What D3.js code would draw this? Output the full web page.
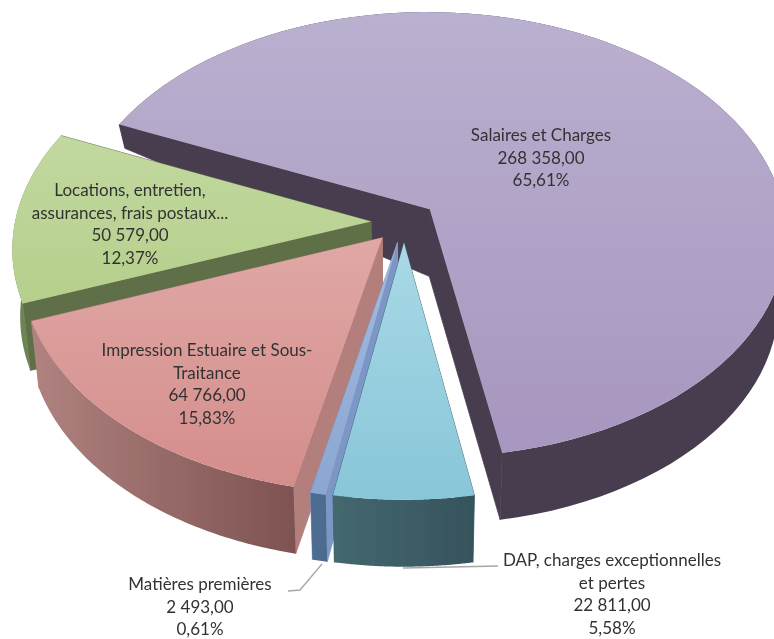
<!DOCTYPE html>
<html>
<head>
<meta charset="utf-8">
<script src="https://cdn.jsdelivr.net/npm/d3@7"></script>
<style>
    html, body { margin: 0; padding: 0; background: #fff; }
    svg { display: block; }
    .label { font-family: Lato, sans-serif; font-size: 17px; fill: #333; text-anchor: middle; }
</style>
</head>
<body>
<svg id="chart"></svg>
<script>
// order is clockwise, starting from the rear left edge of the big slice
const names = ["Salaires et Charges", "DAP, charges exceptionnelles et pertes", "Matières premières", "Impression Estuaire et Sous-Traitance", "Locations, entretien, assurances, frais postaux..."];
const values = [268358, 22811, 2493, 64766, 50579];
const valueLabels = ["268 358,00", "22 811,00", "2 493,00", "64 766,00", "50 579,00"];
const percentLabels = ["65,61%", "5,58%", "0,61%", "15,83%", "12,37%"];
const nameLines = [["Salaires et Charges"], ["DAP, charges exceptionnelles", "et pertes"], ["Matières premières"], ["Impression Estuaire et Sous-", "Traitance"], ["Locations, entretien,", "assurances, frais postaux..."]];

// styling per slice
const topColors = [["#bab0cf", "#a796bf"], ["#a9d9e5", "#88c6d9"], ["#a3bbdf", "#8aa6d2"], ["#e0a8a5", "#d48d8b"], ["#c2d8a0", "#b6cf8b"]];
const cutColors = ["#463d50", "#3f6670", "#7c97c6", "#b27f7c", "#5f7049"];
const rimColors = [["#463d50", "#463d50"], ["#44686f", "#36535c"], ["#4f6d92", "#47618a"], ["#b08280", "#6d4341"], ["#6d8552", "#5f7049"]];

// label centres, one entry per slice
const labelCentres = [[541, 135], [612, 560], [200, 584], [207, 350], [130, 190]];
const lineStep = 22.6;

// back to front
const drawOrder = [0, 4, 3, 2, 1];

// pie geometry
const width = 774, height = 639;
const cx = 404, cy = 222;
const radius = 356, explode = 33;
const tilt = 0.625, persp = 0.114;
const depth = 67, rearSlope = 108, shrink = 0.02;
const deg = Math.PI / 180;

const svg = d3.select("#chart").attr("width", width).attr("height", height);
const defs = svg.append("defs");
defs.append("filter").attr("id", "soft")
    .append("feGaussianBlur").attr("stdDeviation", 0.55);
defs.append("filter").attr("id", "softText")
    .append("feGaussianBlur").attr("stdDeviation", 0.3);

const pie = d3.pie().sort(null).startAngle(-66.2 * deg).endAngle(293.8 * deg);
const arcs = pie(values);
const line = d3.line();

// ground plane -> screen, v grows toward the viewer
function project(u, v, lower) {
    const p = 1 / (1 - persp * v / radius);
    const x = cx + u * p;
    const y = cy + v * tilt * p;
    if (!lower) return [x, y];
    // the bottom face shrinks toward the middle and the rear wall gets thinner
    const n = v / radius;
    const h = n > -0.06 ? depth : Math.max(15, depth + rearSlope * (n + 0.06));
    return [x + (cx - x) * shrink, y + h];
}

function gradient(id, colors, x1, y1, x2, y2) {
    const g = defs.append("linearGradient").attr("id", id)
        .attr("gradientUnits", "userSpaceOnUse")
        .attr("x1", x1).attr("y1", y1).attr("x2", x2).attr("y2", y2);
    g.append("stop").attr("offset", 0).attr("stop-color", colors[0]);
    g.append("stop").attr("offset", 1).attr("stop-color", colors[1]);
}

const chart = svg.append("g").attr("filter", "url(#soft)");

drawOrder.forEach(i => {
    const d = arcs[i];
    const mid = (d.startAngle + d.endAngle) / 2;
    const ox = explode * Math.sin(mid), oy = -explode * Math.cos(mid);
    const steps = d3.range(0, 1.0001, 1 / 90).map(t => d.startAngle + t * (d.endAngle - d.startAngle));
    const rim = steps.map(a => [ox + radius * Math.sin(a), oy - radius * Math.cos(a)]);
    const apex = [ox, oy];
    const upper = pts => pts.map(q => project(q[0], q[1], false));
    const lower = pts => pts.map(q => project(q[0], q[1], true));

    const topPts = upper([apex, ...rim]);
    const ys = topPts.map(q => q[1]);
    const xs = topPts.map(q => q[0]);
    gradient("top" + i, topColors[i], 0, d3.min(ys), 0, d3.max(ys));
    gradient("rim" + i, rimColors[i], d3.min(xs), 0, d3.max(xs), 0);

    const g = chart.append("g");
    // the two radial cuts, stroked so no seam shows where they meet
    [rim[0], rim[rim.length - 1]].forEach(end => {
        const wall = [...upper([apex, end]), ...lower([end, apex])];
        g.append("path").attr("d", line(wall) + "Z")
            .attr("fill", cutColors[i])
            .attr("stroke", cutColors[i])
            .attr("stroke-width", 0.8);
    });
    // outer wall
    const wall = [...upper(rim), ...lower(rim).reverse()];
    g.append("path").attr("d", line(wall) + "Z").attr("fill", `url(#rim${i})`);
    // top face
    g.append("path").attr("d", line(topPts) + "Z").attr("fill", `url(#top${i})`);
});

// leader lines of the two small slices
const leaders = [
    [[403, 568], [498, 566]],
    [[322, 564], [300, 590], [288, 591]]
];
svg.selectAll(".leader").data(leaders).join("path")
    .attr("class", "leader")
    .attr("d", d => line(d))
    .attr("fill", "none")
    .attr("stroke", "#a6a6a6")
    .attr("stroke-width", 1.3);

// labels
const labelLayer = svg.append("g").attr("filter", "url(#softText)");
names.forEach((name, i) => {
    const rows = [...nameLines[i], valueLabels[i], percentLabels[i]];
    labelLayer.append("g").selectAll("text").data(rows).join("text")
        .attr("class", "label")
        .attr("x", labelCentres[i][0])
        .attr("y", (d, k) => labelCentres[i][1] + k * lineStep)
        .attr("dy", "0.35em")
        .text(d => d);
});
</script>
</body>
</html>
